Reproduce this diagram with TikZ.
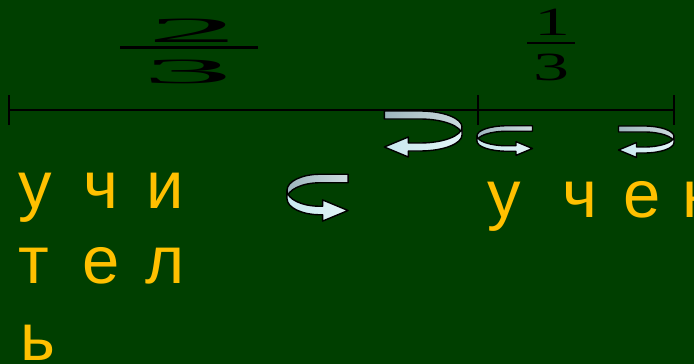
\documentclass[tikz,border=0pt]{standalone}
\usepackage{fontspec}
\setmainfont{Liberation Sans}
\newfontfamily\fracfont{Liberation Serif}
\usetikzlibrary{calc}
\definecolor{BoardGreen}{RGB}{0,63,0}
\definecolor{ChalkGold}{RGB}{255,192,0}
\definecolor{RibbonBack}{RGB}{158,182,190}
\definecolor{RibbonBackLight}{RGB}{204,218,222}
\definecolor{RibbonFront}{RGB}{200,232,238}
\definecolor{RibbonFrontLight}{RGB}{226,244,246}

% curved turn arrow: centre x, centre y, x radius, y radius, band, direction
\newcommand{\turnarrow}[6]{%
  \begin{scope}[shift={(#1,-#2)},xscale=#6]
    \draw[ribbon,left color=RibbonBack,right color=RibbonBackLight]
      (-0.85*#3,#4+#5/2) -- (0,#4+#5/2)
      arc[start angle=90,end angle=0,x radius=#3,y radius=#4]
      -- ++(0,-#5)
      arc[start angle=0,end angle=90,x radius=#3,y radius=#4]
      -- (-0.85*#3,#4-#5/2) -- cycle;
    \draw[ribbon,left color=RibbonFront,right color=RibbonFrontLight]
      (#3,#5/2)
      arc[start angle=0,end angle=-90,x radius=#3,y radius=#4]
      -- (-0.85*#3+3*#5,-#4+#5/2) -- (-0.85*#3+3*#5,-#4+1.25*#5)
      -- (-0.85*#3,-#4)
      -- (-0.85*#3+3*#5,-#4-1.25*#5) -- (-0.85*#3+3*#5,-#4-#5/2)
      -- (0,-#4-#5/2)
      arc[start angle=-90,end angle=0,x radius=#3,y radius=#4]
      -- cycle;
  \end{scope}}

\begin{document}
\begin{tikzpicture}[x=1pt,y=1pt,
    ribbon/.style={draw=black,line width=1.4pt,line join=round},
    axis/.style={draw=black,line width=1.6pt},
    fracbar/.style={draw=black,line width=2.6pt},
    digit/.style={font=\fracfont\fontsize{40}{40}\selectfont,anchor=base,inner sep=0pt},
    letter/.style={font=\fontsize{67}{67}\selectfont,text=ChalkGold,anchor=base west,inner sep=0pt}
  ]
  \fill[BoardGreen] (0,0) rectangle (694,-364);
  \useasboundingbox (0,0) rectangle (694,-364);
  \clip (0,0) rectangle (694,-364);

  % fractions
  \node[digit,xscale=5.1,font=\fracfont\fontsize{35.5}{35.5}\selectfont] (twoA) at (192.5,-42) {2};
  \node[digit,xscale=5.1,font=\fracfont\fontsize{35.5}{35.5}\selectfont] (threeA) at (187.5,-83) {3};
  \coordinate (barAl) at (120,-47.5);
  \coordinate (barAr) at (258,-47.5);
  \draw[fracbar] (barAl) -- (barAr);
  \node[digit,xscale=1.8] (oneB) at (552,-35) {1};
  \node[digit,xscale=1.8] (threeB) at (551.5,-80) {3};
  \coordinate (barBl) at (527,-43);
  \coordinate (barBr) at (575,-43);
  \draw[fracbar] (barBl) -- (barBr);

  % segment
  \coordinate (start) at (9,-110);
  \coordinate (split) at (478,-110);
  \coordinate (end) at (674,-110);
  \draw[axis] (start) -- (end);
  \foreach \p in {start,split,end}
    \draw[axis] ($(\p)+(0,15)$) -- ($(\p)+(0,-15)$);

  % arrows
  \turnarrow{420}{131}{42}{16}{8}{1}
  \turnarrow{507}{138.5}{30}{10}{5.5}{-1}
  \turnarrow{644}{139.5}{30}{10.5}{6}{1}
  \turnarrow{320}{194.5}{33}{16}{8.5}{-1}

  % words
  \foreach \ch/\x/\y/\n in {у/18/208/wa, ч/83/208/wb, и/146/208/wc,
      т/18/283/wd, е/82/283/we, л/145/283/wf, ь/20/360/wg,
      у/487/217/va, ч/562/217/vb, е/623/217/vc, н/682/217/vd}
    \node[letter] (\n) at (\x,-\y) {\ch};
\end{tikzpicture}
\end{document}
